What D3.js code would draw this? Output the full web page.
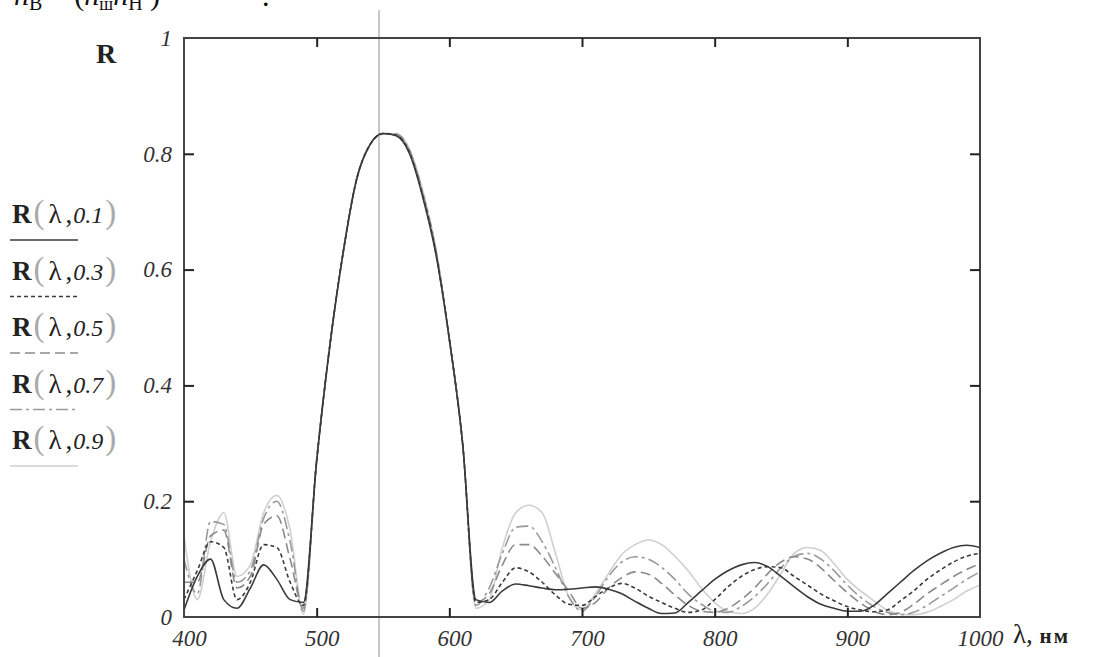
<!DOCTYPE html>
<html>
<head>
<meta charset="utf-8">
<script src="https://cdn.jsdelivr.net/npm/d3@7"></script>
<style>
  body { margin: 0; background: #fff; }
  svg { display: block; }
</style>
</head>
<body>
<script>
// Data (wavelength grid in nm, 10 nm step)
const lambda = d3.range(400, 1001, 10);

const r01 = [0.012, 0.07, 0.10, 0.03, 0.015, 0.05, 0.09, 0.065, 0.03, 0.025,
  0.27, 0.47, 0.63, 0.755, 0.815, 0.835, 0.831, 0.8, 0.725, 0.625, 0.48, 0.30,
  0.03, 0.025, 0.045, 0.057, 0.054, 0.05, 0.047, 0.048, 0.05, 0.052, 0.048, 0.04,
  0.027, 0.015, 0.006, 0.007, 0.025, 0.045, 0.065, 0.08, 0.09, 0.094, 0.087,
  0.07, 0.052, 0.035, 0.022, 0.015, 0.01, 0.01, 0.02, 0.04, 0.06, 0.08, 0.097,
  0.11, 0.12, 0.124, 0.12];
const r03 = [0.03, 0.08, 0.13, 0.12, 0.03, 0.06, 0.125, 0.12, 0.06, 0.02,
  0.27, 0.47, 0.63, 0.755, 0.815, 0.835, 0.832, 0.802, 0.727, 0.627, 0.48, 0.30,
  0.025, 0.03, 0.06, 0.085, 0.078, 0.06, 0.038, 0.022, 0.02, 0.035, 0.05, 0.058,
  0.05, 0.036, 0.025, 0.015, 0.008, 0.012, 0.03, 0.052, 0.07, 0.082, 0.087,
  0.085, 0.07, 0.055, 0.04, 0.028, 0.018, 0.012, 0.009, 0.012, 0.028, 0.045,
  0.065, 0.081, 0.095, 0.105, 0.11];
const r05 = [0.06, 0.06, 0.14, 0.15, 0.05, 0.07, 0.16, 0.175, 0.10, 0.015,
  0.27, 0.47, 0.63, 0.755, 0.815, 0.835, 0.833, 0.804, 0.73, 0.63, 0.48, 0.30,
  0.025, 0.04, 0.09, 0.125, 0.125, 0.105, 0.075, 0.045, 0.015, 0.025, 0.05, 0.068,
  0.078, 0.074, 0.058, 0.038, 0.02, 0.01, 0.008, 0.015, 0.03, 0.05, 0.075,
  0.095, 0.104, 0.1, 0.085, 0.063, 0.042, 0.024, 0.01, 0.004, 0.008, 0.022,
  0.04, 0.055, 0.07, 0.082, 0.092];
const r07 = [0.10, 0.04, 0.165, 0.16, 0.06, 0.08, 0.17, 0.20, 0.13, 0.01,
  0.27, 0.47, 0.63, 0.755, 0.815, 0.835, 0.834, 0.806, 0.733, 0.632, 0.48, 0.30,
  0.02, 0.05, 0.11, 0.155, 0.157, 0.13, 0.085, 0.035, 0.01, 0.035, 0.07, 0.095,
  0.104, 0.1, 0.086, 0.065, 0.04, 0.022, 0.01, 0.008, 0.018, 0.035, 0.058,
  0.085, 0.105, 0.11, 0.1, 0.08, 0.055, 0.034, 0.018, 0.008, 0.004, 0.008,
  0.02, 0.035, 0.05, 0.065, 0.078];
const r09 = [0.14, 0.03, 0.13, 0.18, 0.07, 0.09, 0.18, 0.21, 0.15, 0.005,
  0.27, 0.47, 0.63, 0.755, 0.815, 0.834, 0.835, 0.808, 0.736, 0.635, 0.48, 0.30,
  0.015, 0.03, 0.12, 0.18, 0.193, 0.18, 0.11, 0.035, 0.012, 0.04, 0.075, 0.108,
  0.125, 0.133, 0.125, 0.105, 0.08, 0.05, 0.025, 0.01, 0.006, 0.015, 0.04,
  0.075, 0.11, 0.12, 0.115, 0.092, 0.065, 0.045, 0.028, 0.012, 0.005, 0.004,
  0.008, 0.018, 0.03, 0.045, 0.055];

const seriesNames = ["0.1", "0.3", "0.5", "0.7", "0.9"];
const seriesValues = [r01, r03, r05, r07, r09];
const xTicks = [400, 500, 600, 700, 800, 900, 1000];
const yTicks = [0, 0.2, 0.4, 0.6, 0.8, 1];
const markerLambda = 547;

// Styles per series
const STYLES = [
  { color: "#3a3a3a", dash: null },
  { color: "#3a3a3a", dash: "4,3" },
  { color: "#8a8a8a", dash: "10,5" },
  { color: "#9a9a9a", dash: "12,4,3,4" },
  { color: "#cfcfcf", dash: null },
];

const WIDTH = 1095, HEIGHT = 657;
const PLOT = { left: 184, right: 980, top: 38, bottom: 617 };
const SERIF = "'Liberation Serif', 'DejaVu Serif', serif";

const svg = d3.select("body").append("svg")
  .attr("width", WIDTH)
  .attr("height", HEIGHT);

const x = d3.scaleLinear().domain([400, 1000]).range([PLOT.left, PLOT.right]);
const y = d3.scaleLinear().domain([0, 1]).range([PLOT.bottom, PLOT.top]);

// Formula line above the chart, cut by the top edge as in the source scan
const formula = svg.append("text")
  .attr("x", 14).attr("y", 5)
  .attr("font-family", SERIF)
  .attr("font-size", 30)
  .attr("fill", "#111");
formula.append("tspan").attr("font-style", "italic").text("n");
formula.append("tspan").attr("font-size", 20).attr("dy", 5).text("B");
formula.append("tspan").attr("dy", -5).text(" = (");
formula.append("tspan").attr("font-style", "italic").text("n");
formula.append("tspan").attr("font-size", 18).attr("dy", 5).text("ш");
formula.append("tspan").attr("font-style", "italic").attr("dy", -5).text("n");
formula.append("tspan").attr("font-size", 20).attr("dy", 5).text("Н");
formula.append("tspan").attr("dy", -5).text("   )");
svg.append("text")
  .attr("x", 262).attr("y", 6)
  .attr("font-family", SERIF).attr("font-size", 30)
  .text(".");

// Vertical marker line
svg.append("line")
  .attr("x1", x(markerLambda)).attr("x2", x(markerLambda))
  .attr("y1", 10).attr("y2", HEIGHT)
  .attr("stroke", "#c8c8c8")
  .attr("stroke-width", 2);

// Curves
svg.append("clipPath").attr("id", "plot-clip")
  .append("rect")
  .attr("x", PLOT.left).attr("y", PLOT.top)
  .attr("width", PLOT.right - PLOT.left)
  .attr("height", PLOT.bottom - PLOT.top);

const line = d3.line()
  .curve(d3.curveMonotoneX)
  .x((d) => x(d[0]))
  .y((d) => y(d[1]));

// draw lightest first so dark lines sit on top
[4, 3, 2, 1, 0].forEach((i) => {
  svg.append("path")
    .datum(lambda.map((l, j) => [l, seriesValues[i][j]]))
    .attr("clip-path", "url(#plot-clip)")
    .attr("fill", "none")
    .attr("stroke", STYLES[i].color)
    .attr("stroke-width", 1.6)
    .attr("stroke-dasharray", STYLES[i].dash)
    .attr("d", line);
});

// Frame
svg.append("rect")
  .attr("x", PLOT.left).attr("y", PLOT.top)
  .attr("width", PLOT.right - PLOT.left)
  .attr("height", PLOT.bottom - PLOT.top)
  .attr("fill", "none")
  .attr("stroke", "#444")
  .attr("stroke-width", 2);

// Axes with inward ticks
const inner = xTicks.slice(1, -1);
const innerY = yTicks.slice(1, -1);

function styleAxis(g) {
  g.select(".domain").remove();
  g.selectAll(".tick line").attr("stroke", "#222").attr("stroke-width", 2);
  g.selectAll(".tick text")
    .attr("font-family", SERIF)
    .attr("font-style", "italic")
    .attr("font-size", 23)
    .attr("fill", "#333");
}

svg.append("g")
  .attr("transform", `translate(0,${PLOT.bottom})`)
  .call(d3.axisBottom(x).tickValues(xTicks).tickSize(-9).tickPadding(13).tickFormat(d3.format("d")))
  .call(styleAxis)
  .call((g) => g.selectAll(".tick").filter((d) => !inner.includes(d)).select("line").remove())
  .call((g) => g.selectAll(".tick text").attr("dx", (d) => (d === 1000 ? 0 : 5)));

svg.append("g")
  .attr("transform", `translate(0,${PLOT.top})`)
  .call(d3.axisTop(x).tickValues(inner).tickSize(-9).tickFormat(""))
  .call(styleAxis);

svg.append("g")
  .attr("transform", `translate(${PLOT.left},0)`)
  .call(d3.axisLeft(y).tickValues(yTicks).tickSize(-10).tickPadding(12)
    .tickFormat((d) => (d === 0 || d === 1 ? d3.format("d")(d) : d3.format(".1f")(d))))
  .call(styleAxis)
  .call((g) => g.selectAll(".tick").filter((d) => !innerY.includes(d)).select("line").remove());

svg.append("g")
  .attr("transform", `translate(${PLOT.right},0)`)
  .call(d3.axisRight(y).tickValues(innerY).tickSize(-10).tickFormat(""))
  .call(styleAxis);

// Axis titles
svg.append("text")
  .attr("x", 96).attr("y", 63)
  .attr("font-family", SERIF)
  .attr("font-weight", "bold")
  .attr("font-size", 28)
  .attr("fill", "#222")
  .text("R");

const xTitle = svg.append("text")
  .attr("x", 1013).attr("y", 643)
  .attr("font-family", SERIF)
  .attr("font-size", 27)
  .attr("fill", "#222");
xTitle.append("tspan").text("λ, ");
xTitle.append("tspan").attr("font-weight", "bold").attr("font-size", 21)
  .attr("letter-spacing", 2).text("нм");

// Legend on the left
const legend = svg.append("g").attr("transform", "translate(12,0)");
seriesNames.forEach((name, i) => {
  const ty = 223 + i * 56.5;
  const t = legend.append("text")
    .attr("x", 0).attr("y", ty)
    .attr("font-family", SERIF)
    .attr("font-size", 27)
    .attr("fill", "#222");
  t.append("tspan").attr("font-weight", "bold").text("R");
  t.append("tspan").attr("fill", "#aaa").attr("font-size", 33).attr("dx", 2).text("(");
  t.append("tspan").attr("dx", 4).text("λ");
  t.append("tspan").attr("dx", 4).text(",");
  t.append("tspan").attr("font-style", "italic").attr("font-size", 24).attr("dx", 1).text(name);
  t.append("tspan").attr("fill", "#aaa").attr("font-size", 33).attr("dx", 2).text(")");

  legend.append("line")
    .attr("x1", -2).attr("x2", 66)
    .attr("y1", ty + 17).attr("y2", ty + 17)
    .attr("stroke", STYLES[i].color)
    .attr("stroke-width", 1.6)
    .attr("stroke-dasharray", STYLES[i].dash);
});
</script>
</body>
</html>
